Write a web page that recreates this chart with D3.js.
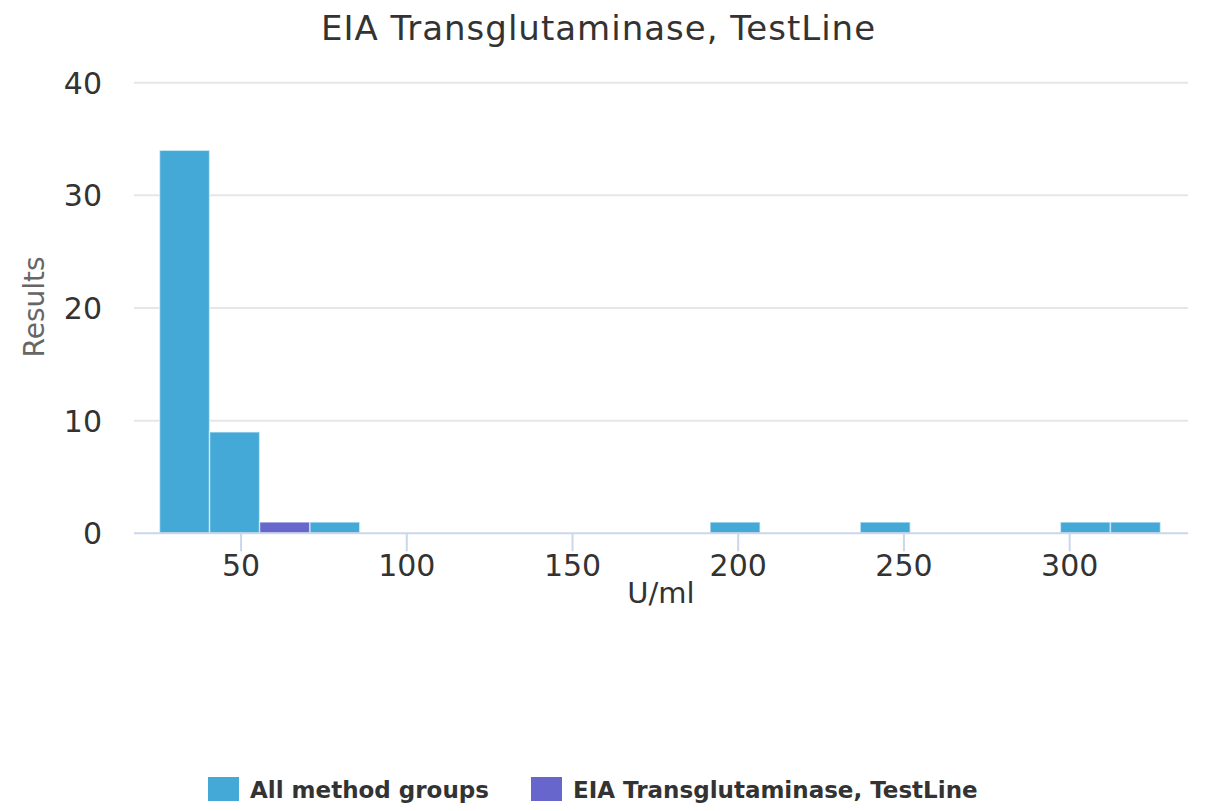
<!DOCTYPE html>
<html>
<head>
<meta charset="utf-8">
<script src="https://cdn.jsdelivr.net/npm/d3@7"></script>
<style>
  html, body { margin: 0; padding: 0; background: #fff; }
  svg { display: block; font-family: "DejaVu Sans", sans-serif; }
</style>
</head>
<body>
<svg id="chart" width="1209" height="811"></svg>
<script>
// ---- data ----
const titleText = "EIA Transglutaminase, TestLine";
const binStart = 25.4;     // lower edge of first bin (U/ml)
const binWidth = 15.1;     // bin width (U/ml)
const allMethodGroups = [34, 9, 0, 1, 0, 0, 0, 0, 0, 0, 0, 1, 0, 0, 1, 0, 0, 0, 1, 1];
const testLine        = [0, 0, 1, 0, 0, 0, 0, 0, 0, 0, 0, 0, 0, 0, 0, 0, 0, 0, 0, 0];
const xTicks = [50, 100, 150, 200, 250, 300];
const yTicks = [0, 10, 20, 30, 40];
const seriesNames = ["All method groups", "EIA Transglutaminase, TestLine"];
const seriesColors = ["#44a9d6", "#6666cc"];

// ---- layout ----
const svg = d3.select("#chart");
const x = d3.scaleLinear().domain([17.7, 335.7]).range([134, 1188]);
const y = d3.scaleLinear().domain([0, 40]).range([533.3, 82.7]);

// grid lines
svg.append("g").selectAll("line").data(yTicks.filter(d => d > 0)).join("line")
  .attr("x1", 134).attr("x2", 1188)
  .attr("y1", d => y(d)).attr("y2", d => y(d))
  .attr("stroke", "#e6e6e6").attr("stroke-width", 2);

// y labels
svg.append("g").selectAll("text").data(yTicks).join("text")
  .attr("x", 102).attr("y", d => y(d) + 11)
  .attr("text-anchor", "end")
  .attr("font-size", 30).attr("fill", "#333")
  .text(d => d);

// bars
function drawSeries(values, color) {
  const data = values.map((v, i) => ({ i, v })).filter(d => d.v > 0);
  svg.append("g").selectAll("rect").data(data).join("rect")
    .attr("x", d => x(binStart + d.i * binWidth))
    .attr("width", d => x(binStart + (d.i + 1) * binWidth) - x(binStart + d.i * binWidth))
    .attr("y", d => y(d.v))
    .attr("height", d => y(0) - y(d.v))
    .attr("fill", color)
    .attr("stroke", "rgba(255,255,255,0.55)")
    .attr("stroke-width", 1.5);
}
drawSeries(allMethodGroups, seriesColors[0]);
drawSeries(testLine, seriesColors[1]);

// x axis line
svg.append("line")
  .attr("x1", 134).attr("x2", 1188)
  .attr("y1", y(0)).attr("y2", y(0))
  .attr("stroke", "#ccd6eb").attr("stroke-width", 2);

// x ticks
const xt = svg.append("g").selectAll("g").data(xTicks).join("g")
  .attr("transform", d => `translate(${x(d)},0)`);
xt.append("line")
  .attr("y1", y(0)).attr("y2", y(0) + 18)
  .attr("stroke", "#ccd6eb").attr("stroke-width", 2);
xt.append("text")
  .attr("y", 576).attr("text-anchor", "middle")
  .attr("font-size", 30).attr("fill", "#333")
  .text(d => d);

// axis titles
svg.append("text")
  .attr("x", 661).attr("y", 603)
  .attr("text-anchor", "middle")
  .attr("font-size", 29).attr("fill", "#333")
  .text("U/ml");
svg.append("text")
  .attr("transform", "translate(44,307) rotate(-90)")
  .attr("text-anchor", "middle")
  .attr("font-size", 28).attr("fill", "#666")
  .text("Results");

// title
svg.append("text")
  .attr("x", 598.5).attr("y", 40)
  .attr("text-anchor", "middle")
  .attr("font-size", 34).attr("letter-spacing", 1).attr("fill", "#333")
  .text(titleText);

// legend
const legendX = [208, 531];
const lg = svg.append("g").selectAll("g").data(seriesNames).join("g")
  .attr("transform", (d, i) => `translate(${legendX[i]},777)`);
lg.append("rect")
  .attr("width", 31).attr("height", 24)
  .attr("fill", (d, i) => seriesColors[i]);
lg.append("text")
  .attr("x", 42).attr("y", 21)
  .attr("font-size", 23).attr("font-weight", "bold").attr("fill", "#333")
  .text(d => d);
</script>
</body>
</html>
